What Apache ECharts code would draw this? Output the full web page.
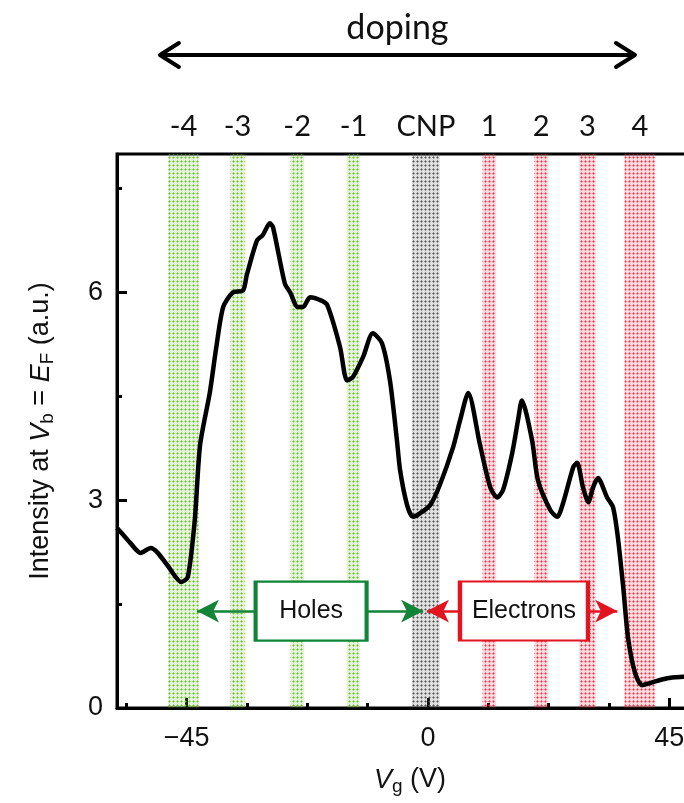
<!DOCTYPE html>
<html>
<head>
<meta charset="utf-8">
<script src="https://cdn.jsdelivr.net/npm/echarts@6/dist/echarts.min.js"></script>
<style>
  html, body { margin: 0; padding: 0; overflow: hidden; background: #fff; }
  #chart { width: 760px; height: 803px; }
</style>
</head>
<body>
<div id="chart"></div>
<script>
(function () {
  'use strict';

  // gate voltage (V) and intensity (a.u.)
  var vg = [-58, -56.5, -55.5, -53.6, -51.7, -50.4, -48.5, -46.0, -44.8, -43.5,
    -42.5, -40.7, -39.5, -38.2, -36.4, -34.5, -33.8, -31.9, -30.8, -29.5,
    -28.9, -26.7, -25.7, -24.3, -23.3, -22.0, -20.1, -18.8, -16.4, -15.1,
    -14.0, -12.1, -10.3, -8.6, -7.1, -5.8, -5.2, -3.9, -2.8, -1.5,
    0.4, 2.2, 4.7, 6.0, 7.5, 9.7, 11.6, 12.9, 14.0, 15.7,
    16.8, 17.5, 19.4, 20.5, 22.8, 24.1, 25.2, 27.1, 27.8, 28.9,
    29.9, 30.8, 31.7, 33.4, 34.5, 35.4, 36.4, 37.3, 38.6, 39.9,
    41.4, 44.6, 47.6, 52, 58];
  var intensity = [2.60, 2.47, 2.38, 2.24, 2.31, 2.24, 2.05, 1.82, 1.89, 2.71,
    3.80, 4.55, 5.20, 5.79, 6.00, 6.03, 6.25, 6.75, 6.83, 7.00,
    6.94, 6.13, 6.00, 5.79, 5.79, 5.93, 5.89, 5.82, 5.21, 4.73,
    4.78, 5.07, 5.41, 5.27, 4.73, 3.87, 3.43, 2.93, 2.76, 2.81,
    2.93, 3.22, 3.77, 4.16, 4.55, 3.80, 3.19, 3.04, 3.15, 3.68,
    4.16, 4.44, 3.87, 3.29, 2.86, 2.76, 2.96, 3.48, 3.54, 3.19,
    2.97, 3.19, 3.32, 3.04, 2.90, 2.47, 1.75, 1.02, 0.51, 0.33,
    0.36, 0.43, 0.45, 0.47, 0.48];

  // doping bands
  var bandFrom = [-48.5, -36.9, -25.7, -15.1, -3.0, 10.1, 19.8, 28.2, 36.6];
  var bandTo = [-42.7, -34.1, -23.1, -12.7, 2.2, 12.7, 22.4, 31.3, 42.4];
  var bandLabels = ['-4', '-3', '-2', '-1', 'CNP', '1', '2', '3', '4'];
  var bandKind = ['h', 'h', 'h', 'h', 'c', 'e', 'e', 'e', 'e'];

  // axis ticks
  var xLabelValues = [-45, 0, 45];
  var xMinorValues = [-56.25, -33.75, -22.5, -11.25, 11.25, 22.5, 33.75, 56.25];
  var yLabelValues = [0, 3, 6];
  var yMinorValues = [1.5, 4.5, 7.5];

  // holes / electrons annotation (data coords)
  var holesArrow = [-43.1, -0.9];
  var electronsArrow = [-0.2, 35.3];
  var annotY = 1.4;
  var holesBoxX = -21.8;
  var electronsBoxX = 17.9;
  var dopingArrow = [-50, 38.6];

  var GREEN = '#118437';
  var RED = '#e2141f';
  var FONT = '"Liberation Sans", Arial, sans-serif';
  var TOPFONT = 'Lato, "Open Sans", sans-serif';

  function stipple(rgb) {
    var c = document.createElement('canvas');
    c.width = 4;
    c.height = 4;
    var ctx = c.getContext('2d');
    ctx.fillStyle = 'rgba(' + rgb + ',0.18)';
    ctx.fillRect(0, 0, 4, 4);
    ctx.fillStyle = 'rgba(' + rgb + ',0.55)';
    ctx.fillRect(0, 1, 3, 1);
    ctx.fillRect(1, 0, 1, 3);
    ctx.fillStyle = 'rgba(' + rgb + ',1)';
    ctx.fillRect(1, 1, 1, 1);
    return c;
  }

  var patterns = {
    h: { image: stipple('110,190,50'), repeat: 'repeat' },
    c: { image: stipple('80,80,80'), repeat: 'repeat' },
    e: { image: stipple('240,50,70'), repeat: 'repeat' }
  };

  var bands = bandFrom.map(function (a, i) {
    return [{
      xAxis: a,
      itemStyle: { color: patterns[bandKind[i]] },
      label: { formatter: bandLabels[i] }
    }, { xAxis: bandTo[i] }];
  });

  var line = vg.map(function (v, i) { return [v, intensity[i]]; });

  var tickStyle = { color: '#000', width: 3 };

  var chart = echarts.init(document.getElementById('chart'));

  var option = {
    animation: false,
    grid: {
      left: 117, top: 154, right: 21, bottom: 95,
      show: true, borderColor: '#000', borderWidth: 3
    },
    xAxis: [{
      type: 'value',
      min: -58, max: 58,
      position: 'bottom',
      splitLine: { show: false },
      axisLine: { onZero: false, lineStyle: { color: '#000', width: 3 } },
      axisTick: { inside: true, length: 10, customValues: xLabelValues, lineStyle: tickStyle },
      axisLabel: {
        customValues: xLabelValues, margin: 17, fontSize: 27, fontFamily: FONT, color: '#111',
        formatter: function (v) { return v < 0 ? '\u2212' + Math.abs(v) : String(v); }
      },
      name: '{i|V}{s|g}{t| (V)}',
      nameLocation: 'middle',
      nameGap: 56,
      nameTextStyle: {
        padding: [0, 36, 0, 0],
        rich: {
          t: { fontSize: 27, fontFamily: FONT, color: '#111', lineHeight: 32 },
          i: { fontSize: 27, fontFamily: FONT, fontStyle: 'italic', color: '#111', lineHeight: 32 },
          s: { fontSize: 19, fontFamily: FONT, color: '#111', lineHeight: 19, verticalAlign: 'bottom' }
        }
      }
    }, {
      type: 'value',
      min: -58, max: 58,
      position: 'bottom',
      splitLine: { show: false },
      axisLine: { show: false, onZero: false },
      axisTick: { inside: true, length: 5, customValues: xMinorValues, lineStyle: tickStyle },
      axisLabel: { show: false }
    }],
    yAxis: [{
      type: 'value',
      min: 0, max: 8,
      position: 'left',
      splitLine: { show: false },
      axisLine: { onZero: false, lineStyle: { color: '#000', width: 3 } },
      axisTick: { inside: true, length: 10, customValues: yLabelValues, lineStyle: tickStyle },
      axisLabel: { customValues: yLabelValues, margin: 14, fontSize: 27, fontFamily: FONT, color: '#111' },
      name: '{t|Intensity at }{i|V}{s|b}{t| = }{i|E}{s|F}{t| (a.u.)}',
      nameLocation: 'middle',
      nameRotate: 90,
      nameGap: 60,
      nameTextStyle: {
        rich: {
          t: { fontSize: 27, fontFamily: FONT, color: '#111', lineHeight: 32 },
          i: { fontSize: 27, fontFamily: FONT, fontStyle: 'italic', color: '#111', lineHeight: 32 },
          s: { fontSize: 19, fontFamily: FONT, color: '#111', lineHeight: 19, verticalAlign: 'bottom' }
        }
      }
    }, {
      type: 'value',
      min: 0, max: 8,
      position: 'left',
      splitLine: { show: false },
      axisLine: { show: false, onZero: false },
      axisTick: { inside: true, length: 5, customValues: yMinorValues, lineStyle: tickStyle },
      axisLabel: { show: false }
    }],
    series: [{
      name: 'bands',
      type: 'line',
      data: [],
      clip: false,
      z: 1,
      silent: true,
      markArea: {
        silent: true,
        label: {
          show: true, position: 'top', distance: 13,
          fontSize: 29, fontFamily: TOPFONT, color: '#111'
        },
        data: bands
      }
    }, {
      name: 'arrows',
      type: 'line',
      data: [],
      z: 3,
      silent: true,
      markLine: {
        silent: true,
        symbol: ['arrow', 'arrow'],
        symbolSize: [17, 22],
        label: { show: false },
        data: [
          [{ coord: [holesArrow[0], annotY], lineStyle: { color: GREEN, width: 2.5, type: 'solid' }, itemStyle: { color: GREEN } },
           { coord: [holesArrow[1], annotY] }],
          [{ coord: [electronsArrow[0], annotY], lineStyle: { color: RED, width: 2.5, type: 'solid' }, itemStyle: { color: RED } },
           { coord: [electronsArrow[1], annotY] }]
        ]
      }
    }, {
      name: 'boxes',
      type: 'line',
      data: [],
      z: 4,
      silent: true,
      markPoint: {
        silent: true,
        symbol: 'rect',
        label: { show: true, position: 'inside', fontSize: 25, fontFamily: FONT, color: '#111' },
        data: [
          { coord: [holesBoxX, annotY], value: 'Holes', symbolSize: [111, 59],
            itemStyle: { color: '#fff', borderColor: GREEN, borderWidth: 3 },
            label: { formatter: 'Holes' } },
          { coord: [electronsBoxX, annotY], value: 'Electrons', symbolSize: [128, 59],
            itemStyle: { color: '#fff', borderColor: RED, borderWidth: 3 },
            label: { formatter: 'Electrons' } }
        ]
      }
    }, {
      name: 'intensity',
      type: 'line',
      data: line,
      xAxisIndex: 0,
      yAxisIndex: 0,
      z: 5,
      showSymbol: false,
      smooth: 0.25,
      lineStyle: { color: '#000', width: 4.5 },
      itemStyle: { color: '#000' }
    }]
  };

  chart.setOption(option);

  // doping arrow above the plot, placed through the x axis
  var xa = chart.convertToPixel({ xAxisIndex: 0 }, dopingArrow[0]);
  var xb = chart.convertToPixel({ xAxisIndex: 0 }, dopingArrow[1]);
  var ay = 55;
  var stroke = { stroke: '#000', lineWidth: 4, fill: null, lineCap: 'round', lineJoin: 'round' };
  chart.setOption({
    graphic: [
      { type: 'line', shape: { x1: xa + 2, y1: ay, x2: xb - 2, y2: ay }, style: stroke, silent: true },
      { type: 'polyline', shape: { points: [[xa + 19, ay - 12], [xa, ay], [xa + 19, ay + 12]] }, style: stroke, silent: true },
      { type: 'polyline', shape: { points: [[xb - 19, ay - 12], [xb, ay], [xb - 19, ay + 12]] }, style: stroke, silent: true },
      { type: 'text', x: (xa + xb) / 2, y: 28, silent: true,
        style: { text: 'doping', fontSize: 34, fontFamily: TOPFONT, fill: '#111', align: 'center', verticalAlign: 'middle' } }
    ]
  });
})();
</script>
</body>
</html>
